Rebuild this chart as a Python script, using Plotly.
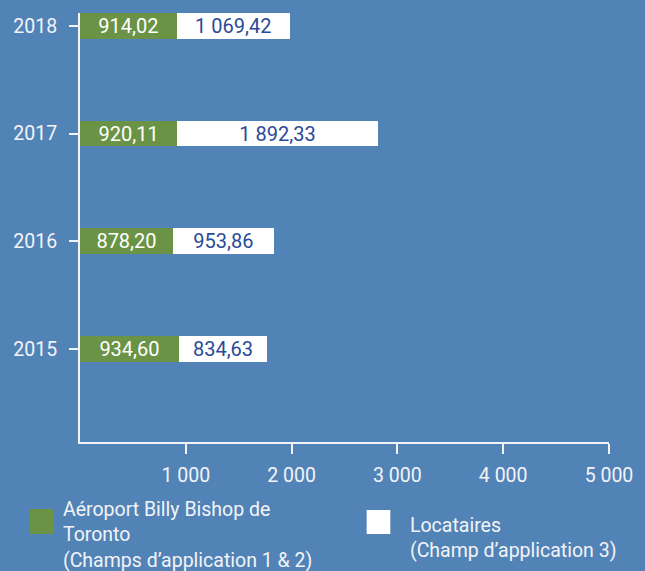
import plotly.graph_objects as go

# ---- data ----
years = ["2015", "2016", "2017", "2018"]
airport = [934.60, 878.20, 920.11, 914.02]        # Aéroport Billy Bishop de Toronto (Champs 1 & 2)
tenants = [834.63, 953.86, 1892.33, 1069.42]      # Locataires (Champ 3)
x_tickvals = [1000, 2000, 3000, 4000, 5000]
x_ticktext = ["1 000", "2 000", "3 000", "4 000", "5 000"]
legend_airport = "Aéroport Billy Bishop de<br>Toronto<br>(Champs d’application 1 &amp; 2)"
legend_tenants = "Locataires<br>(Champ d’application 3)"

# ---- style ----
BG = "#5283b6"
GREEN = "#6a9346"
WHITE = "#ffffff"
NAVY = "#2b4a98"
TXT = "#f2f4f7"
FONT = "Roboto"

W, H = 645, 571
ML, MR, MT, MB = 80, 28, 13, 129


def fr(v):
    return f"{v:,.2f}".replace(",", " ").replace(".", ",")


def px_x(p):
    return (p - ML) / (W - ML - MR)


def px_y(p):
    return (H - MB - p) / (H - MT - MB)


fig = go.Figure()
fig.add_trace(go.Bar(
    y=years, x=airport, orientation="h", width=0.24,
    marker=dict(color=GREEN, line=dict(width=0)),
    text=[fr(v) for v in airport], textposition="inside",
    insidetextanchor="middle", textangle=0,
    textfont=dict(family=FONT, size=20, color=WHITE),
    name="Aéroport", showlegend=False, hoverinfo="x+y",
))
fig.add_trace(go.Bar(
    y=years, x=tenants, orientation="h", width=0.24,
    marker=dict(color=WHITE, line=dict(width=0)),
    text=[fr(v) for v in tenants], textposition="inside",
    insidetextanchor="middle", textangle=0,
    textfont=dict(family=FONT, size=20, color=NAVY),
    name="Locataires", showlegend=False, hoverinfo="x+y",
))

# legend swatches and texts
fig.add_shape(type="rect", xref="paper", yref="paper",
              x0=px_x(29), x1=px_x(53), y0=px_y(534), y1=px_y(509),
              fillcolor=GREEN, line=dict(width=0))
fig.add_shape(type="rect", xref="paper", yref="paper",
              x0=px_x(371), x1=px_x(395), y0=px_y(534), y1=px_y(510),
              fillcolor=WHITE, line=dict(width=0))
fig.add_annotation(text=legend_airport, xref="paper", yref="paper",
                   x=px_x(61), y=px_y(534.5), xanchor="left", yanchor="middle",
                   align="left", showarrow=False,
                   font=dict(family=FONT, size=19.5, color=TXT))
fig.add_annotation(text=legend_tenants, xref="paper", yref="paper",
                   x=px_x(413), y=px_y(538), xanchor="left", yanchor="middle",
                   align="left", showarrow=False,
                   font=dict(family=FONT, size=19.5, color=TXT))

fig.update_layout(
    width=W, height=H,
    margin=dict(l=ML, r=MR, t=MT, b=MB, pad=0),
    barmode="stack",
    paper_bgcolor=BG, plot_bgcolor=BG,
    uniformtext=dict(minsize=20, mode="show"),
    font=dict(family=FONT, color=TXT, size=19.5),
    xaxis=dict(range=[0, 5000], tickvals=x_tickvals, ticktext=x_ticktext,
               showgrid=False, zeroline=False, showline=True,
               linecolor=TXT, linewidth=2, ticks="outside", ticklen=10,
               tickwidth=2, tickcolor=TXT, ticklabelstandoff=5,
               tickfont=dict(family=FONT, size=19.5, color=TXT)),
    yaxis=dict(type="category", categoryorder="array", categoryarray=years,
               range=[-0.865, 3.12], showgrid=False, zeroline=False,
               showline=True, linecolor=TXT, linewidth=2, ticks="outside",
               ticklen=9, tickwidth=2, tickcolor=TXT, ticklabelstandoff=8,
               tickfont=dict(family=FONT, size=19.5, color=TXT)),
)

fig.write_html("out.html", config={"displayModeBar": False})

# remove the browser's default page margin so the figure fills the window
with open("out.html", encoding="utf-8") as f:
    html = f.read()
html = html.replace("<head>", "<head><style>html,body{margin:0;padding:0;background:%s;overflow:hidden}</style>" % BG, 1)
with open("out.html", "w", encoding="utf-8") as f:
    f.write(html)
